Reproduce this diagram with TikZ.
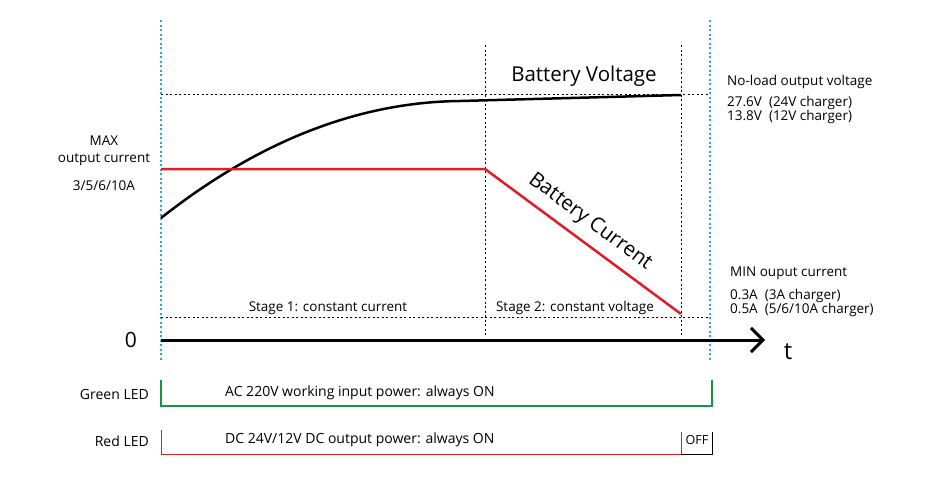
\documentclass[tikz,border=0pt]{standalone}
\usepackage{fontspec}
\setmainfont{Open Sans}
\usetikzlibrary{arrows.meta}
\definecolor{sky}{RGB}{40,170,210}
\definecolor{gled}{RGB}{20,150,70}
\definecolor{rled}{RGB}{220,30,40}
\begin{document}
\begin{tikzpicture}[x=1pt,y=-1pt,
  blue dots/.style={sky,line width=2.5pt,dash pattern=on 2pt off 2.5pt},
  guide/.style={black,line width=0.8pt,dash pattern=on 2pt off 2.5pt},
  small/.style={font=\fontsize{13.5}{14}\selectfont,inner sep=0pt},
  lbl/.style={font=\fontsize{14}{15}\selectfont,inner sep=0pt}]
\useasboundingbox (0,0) rectangle (940,480);
% guides
\draw[blue dots] (161,20) -- (161,360);
\draw[blue dots] (710,20) -- (710,360);
\draw[guide] (485,45) -- (485,335);
\draw[guide] (681,45) -- (681,335);
\draw[guide] (161,94) -- (710,94);
\draw[guide] (161,317) -- (710,317);
% axis
\coordinate (o) at (161,340);
\coordinate (tend) at (765,340);
\draw[line width=3pt,-{Straight Barb[length=12pt,width=24pt,line width=3pt]}] (o) -- (tend);
\node[font=\fontsize{21}{22}\selectfont] (zero) at (131,340) {0};
\node[font=\fontsize{24}{24}\selectfont] (t) at (788,352) {t};
% curves
\draw[line width=2.5pt] (161,218) .. controls (260,140) and (360,102) .. (460,101) -- (681,95);
\draw[rled,line width=2.5pt] (161,169) -- (485,169) -- (681,314);
\node[font=\fontsize{20.5}{21}\selectfont] (bv) at (584,76) {Battery Voltage};
\node[font=\fontsize{20.5}{21}\selectfont,rotate=-36.5] (bc) at (590,222) {Battery Current};
% left labels
\node[small] (max1) at (104,141) {MAX};
\node[small] (max2) at (104,160) {output current};
\node[small] (max3) at (104,186) {3/5/6/10A};
% right labels
\node[small,anchor=west] (r1) at (727,82) {No-load output voltage};
\node[small,anchor=west] (r2) at (727,103) {27.6V\ \ (24V charger)};
\node[small,anchor=west] (r3) at (727,117) {13.8V\ \ (12V charger)};
\node[small,anchor=west] (r4) at (730,273) {MIN ouput current};
\node[small,anchor=west] (r5) at (730,296) {0.3A\ \ (3A charger)};
\node[small,anchor=west] (r6) at (730,310) {0.5A\ \ (5/6/10A charger)};
\node[small] (s1) at (328,308) {Stage 1: constant current};
\node[small] (s2) at (575,308) {Stage 2: constant voltage};
% LEDs
\node[lbl,anchor=east] (gl) at (149,394) {Green LED};
\node[lbl,anchor=east] (rl) at (149,441) {Red LED};
\draw[gled,line width=2pt] (161,380) -- (161,406) -- (712,406) -- (712,380);
\node[lbl,anchor=west] (gt) at (225,393) {AC 220V working input power: always ON};
\draw[rled,line width=1pt] (161,430) -- (161,454) -- (681,454) -- (681,432);
\draw[black,line width=1pt] (681,454) -- (712,454) -- (712,432);
\node[lbl,anchor=west] (rt) at (225,440) {DC 24V/12V DC output power: always ON};
\node[font=\fontsize{12.5}{13}\selectfont,inner sep=0pt] (off) at (697,440) {OFF};
\end{tikzpicture}
\end{document}
